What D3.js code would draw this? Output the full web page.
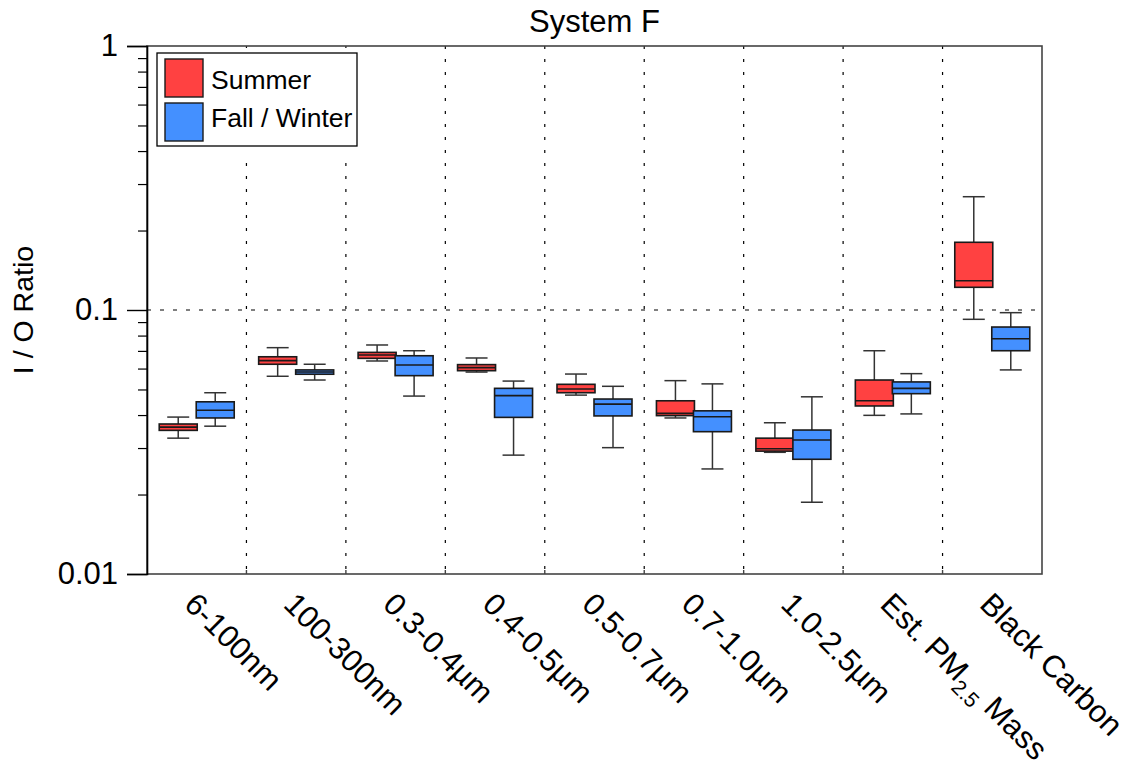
<!DOCTYPE html>
<html>
<head>
<meta charset="utf-8">
<script src="https://cdnjs.cloudflare.com/ajax/libs/d3/7.8.5/d3.min.js"></script>
<style>
html,body{margin:0;padding:0;background:#fff;}
svg{display:block;font-family:"Liberation Sans",Arial,Helvetica,sans-serif;}
</style>
</head>
<body>
<svg id="chart" width="1130" height="768"></svg>
<script>
const title = "System F";
const yLabel = "I / O Ratio";
const categories = ["6-100nm","100-300nm","0.3-0.4µm","0.4-0.5µm","0.5-0.7µm","0.7-1.0µm","1.0-2.5µm","Est. PM2.5 Mass","Black Carbon"];
const seriesNames = ["Summer","Fall / Winter"];
const seriesColors = ["#ff4141","#4490ff"];

const summerMax = [0.0393,0.0720,0.0737,0.0658,0.0572,0.0540,0.0374,0.0701,0.2686];
const summerQ3  = [0.0370,0.0665,0.0691,0.0621,0.0523,0.0453,0.0327,0.0543,0.1805];
const summerMed = [0.0360,0.0643,0.0675,0.0605,0.0502,0.0406,0.0298,0.0453,0.1291];
const summerQ1  = [0.0350,0.0623,0.0656,0.0589,0.0486,0.0398,0.0292,0.0433,0.1219];
const summerMin = [0.0327,0.0561,0.0641,0.0582,0.0476,0.0390,0.0289,0.0399,0.0922];

const winterMax = [0.0486,0.0623,0.0701,0.0538,0.0514,0.0525,0.0469,0.0574,0.0977];
const winterQ3  = [0.0449,0.0593,0.0671,0.0505,0.0460,0.0415,0.0351,0.0534,0.0862];
const winterMed = [0.0417,0.0582,0.0619,0.0474,0.0440,0.0394,0.0322,0.0505,0.0778];
const winterQ1  = [0.0390,0.0571,0.0564,0.0392,0.0397,0.0346,0.0272,0.0482,0.0701];
const winterMin = [0.0363,0.0543,0.0472,0.0282,0.0301,0.0250,0.0187,0.0404,0.0593];

const majorTicks = [0.01,0.1,1];
const majorTickLabels = ["0.01","0.1","1"];

const svg = d3.select("#chart");
const L = 147, R = 1042, T = 46, B = 574;

const x = d3.scaleBand().domain(categories).range([L,R]).paddingInner(0).paddingOuter(0);
const y = d3.scaleLog().domain([0.01,1]).range([B,T]);

const minorTicks = [];
[0.01,0.1].forEach(d => { for (let k=2;k<=9;k++) minorTicks.push(d*k); });

// grid: vertical dotted separators
const sepIdx = d3.range(1, categories.length);
svg.append("g").selectAll("line").data(sepIdx).join("line")
  .attr("x1", i => x(categories[i])).attr("x2", i => x(categories[i]))
  .attr("y1", T).attr("y2", B)
  .attr("stroke","#000").attr("stroke-width",1.2).attr("stroke-dasharray","3,10");

// horizontal dotted at 0.1
svg.append("line").attr("x1",L).attr("x2",R).attr("y1",y(0.1)).attr("y2",y(0.1))
  .attr("stroke","#000").attr("stroke-width",1.2).attr("stroke-dasharray","4,9");

// box plots
const series = [
  {max:summerMax,q3:summerQ3,med:summerMed,q1:summerQ1,min:summerMin,color:seriesColors[0],off:-18.5},
  {max:winterMax,q3:winterQ3,med:winterMed,q1:winterQ1,min:winterMin,color:seriesColors[1],off:18.5}
];
const boxW = 38, capW = 22;
series.forEach(s => {
  const g = svg.append("g");
  categories.forEach((c,i) => {
    const cx = x(c) + x.bandwidth()/2 + s.off;
    g.append("line").attr("x1",cx).attr("x2",cx).attr("y1",y(s.max[i])).attr("y2",y(s.min[i]))
      .attr("stroke","#333").attr("stroke-width",1.5);
    g.append("line").attr("x1",cx-capW/2).attr("x2",cx+capW/2).attr("y1",y(s.max[i])).attr("y2",y(s.max[i]))
      .attr("stroke","#333").attr("stroke-width",1.5);
    g.append("line").attr("x1",cx-capW/2).attr("x2",cx+capW/2).attr("y1",y(s.min[i])).attr("y2",y(s.min[i]))
      .attr("stroke","#333").attr("stroke-width",1.5);
  });
});
series.forEach(s => {
  const g = svg.append("g");
  categories.forEach((c,i) => {
    const cx = x(c) + x.bandwidth()/2 + s.off;
    g.append("rect").attr("x",cx-boxW/2).attr("width",boxW)
      .attr("y",y(s.q3[i])).attr("height",y(s.q1[i])-y(s.q3[i]))
      .attr("fill",s.color).attr("stroke","#1a1a1a").attr("stroke-width",1.6);
    g.append("line").attr("x1",cx-boxW/2).attr("x2",cx+boxW/2).attr("y1",y(s.med[i])).attr("y2",y(s.med[i]))
      .attr("stroke","#1a1a1a").attr("stroke-width",1.6);
  });
});

// frame
svg.append("rect").attr("x",L).attr("y",T).attr("width",R-L).attr("height",B-T)
  .attr("fill","none").attr("stroke","#444").attr("stroke-width",1.6);

// left axis
const yMajor = d3.axisLeft(y).tickValues(majorTicks).tickSize(20).tickPadding(9)
  .tickFormat((d,i) => majorTickLabels[i]);
const gy = svg.append("g").attr("transform",`translate(${L},0)`).call(yMajor);
gy.attr("font-family",null).attr("font-size",null);
gy.select(".domain").attr("stroke","#000").attr("stroke-width",1.6);
gy.selectAll(".tick line").attr("stroke","#000").attr("stroke-width",1.4);
gy.selectAll(".tick text").attr("font-size",31).attr("fill","#000");
const yMinor = d3.axisLeft(y).tickValues(minorTicks).tickSize(9).tickFormat(() => "");
const gym = svg.append("g").attr("transform",`translate(${L},0)`).call(yMinor);
gym.select(".domain").remove();
gym.selectAll(".tick line").attr("stroke","#000").attr("stroke-width",1.2);

// bottom ticks at separators (inside)
svg.append("g").selectAll("line").data(sepIdx).join("line")
  .attr("x1", i => x(categories[i])).attr("x2", i => x(categories[i]))
  .attr("y1", B).attr("y2", B-4).attr("stroke","#444").attr("stroke-width",1.4);

// category labels
const lab = svg.append("g");
categories.forEach((c,i) => {
  const px = x(c) + x.bandwidth()/2 - 14, py = 606;
  const t = lab.append("text").attr("transform",`translate(${px},${py}) rotate(45)`)
    .attr("font-size",31).attr("fill","#000");
  if (c.indexOf("PM2.5") >= 0) {
    t.append("tspan").text("Est. PM");
    t.append("tspan").text("2.5").attr("font-size",21).attr("dy",8);
    t.append("tspan").text(" Mass").attr("dy",-8);
  } else {
    t.text(c);
  }
});

// title
svg.append("text").attr("x",(L+R)/2).attr("y",32).attr("text-anchor","middle")
  .attr("font-size",31).attr("fill","#000").text(title);

// y label
svg.append("text").attr("transform",`translate(33,${(T+B)/2}) rotate(-90)`)
  .attr("text-anchor","middle").attr("font-size",28.5).attr("fill","#000").text(yLabel);

// legend
svg.append("rect").attr("x",149).attr("y",48).attr("width",216).attr("height",110).attr("fill","#fff");
svg.append("rect").attr("x",157).attr("y",53).attr("width",200).attr("height",93)
  .attr("fill","#fff").attr("stroke","#000").attr("stroke-width",1.3);
const leg = svg.append("g");
seriesNames.forEach((n,i) => {
  leg.append("rect").attr("x",165).attr("y",59 + i*44).attr("width",38).attr("height",38)
    .attr("fill",seriesColors[i]).attr("stroke","#1a1a1a").attr("stroke-width",1.4);
  leg.append("text").attr("x",211).attr("y",89 + i*38).attr("font-size",26.5).attr("fill","#000").text(n);
});
</script>
</body>
</html>
